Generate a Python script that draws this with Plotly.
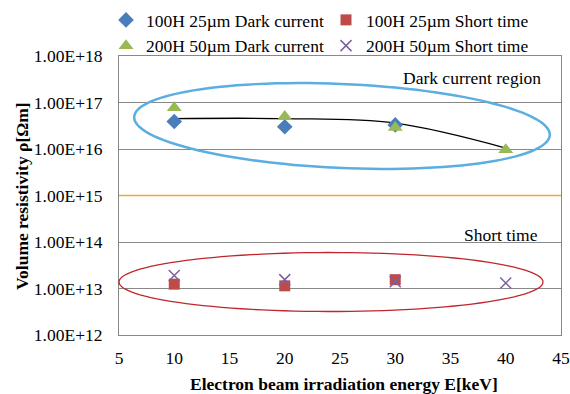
import numpy as np
import plotly.graph_objects as go

energy = [10, 20, 30, 40]
energy_short = [10, 20, 30]
dark_100h = [3.9e16, 3.0e16, 3.3e16]
dark_200h = [7.7e16, 5.0e16, 2.9e16, 9.6e15]
short_100h = [1.24e13, 1.14e13, 1.55e13]
short_200h = [1.9e13, 1.55e13, 1.4e13, 1.31e13]
trend_vals = [4.5e16, 4.5e16, 3.6e16, 1.05e16]
threshold = 1e15
y_tickvals = [1e12, 1e13, 1e14, 1e15, 1e16, 1e17, 1e18]
y_ticktext = ["1.00E+12", "1.00E+13", "1.00E+14", "1.00E+15", "1.00E+16", "1.00E+17", "1.00E+18"]
x_ticks = [5, 10, 15, 20, 25, 30, 35, 40, 45]

FONT = "Liberation Serif, Times New Roman, serif"
FS = 17.5
W, H = 570, 394
L, R, T, B = 119, 9, 56, 59
PW, PH = W - L - R, H - T - B

fig = go.Figure()

fig.add_trace(go.Scatter(x=[5, 45], y=[threshold, threshold], mode="lines",
                         line=dict(color="#f2a829", width=1.5), showlegend=False, hoverinfo="skip"))
fig.add_trace(go.Scatter(x=energy, y=trend_vals, mode="lines", line=dict(color="black", width=1.3, shape="spline"),
                         showlegend=False, hoverinfo="skip"))

fig.add_trace(go.Scatter(x=energy_short, y=dark_100h, mode="markers", name="100H 25µm Dark current",
                         marker=dict(symbol="diamond", size=12, color="#4a7ebb")))
fig.add_trace(go.Scatter(x=energy_short, y=short_100h, mode="markers", name="100H 25µm Short time",
                         marker=dict(symbol="square", size=11, color="#be4b48")))
fig.add_trace(go.Scatter(x=energy, y=dark_200h, mode="markers", name="200H 50µm Dark current",
                         marker=dict(symbol="triangle-up", size=13, color="#98b954")))
fig.add_trace(go.Scatter(x=energy, y=short_200h, mode="markers", name="200H 50µm Short time",
                         marker=dict(symbol="x-thin", size=11, color="#7d60a0", line=dict(width=1.5, color="#7d60a0"))))


def ellipse_path(cx, cy, a, b, deg):
    th = np.radians(deg)
    t = np.linspace(0, 2 * np.pi, 120)
    px = cx + a * np.cos(t) * np.cos(th) - b * np.sin(t) * np.sin(th)
    py = cy + a * np.cos(t) * np.sin(th) + b * np.sin(t) * np.cos(th)
    xs = (px - L) / PW
    ys = (H - B - py) / PH
    return "M " + " L ".join(f"{x:.4f},{y:.4f}" for x, y in zip(xs, ys)) + " Z"


fig.add_shape(type="path", xref="paper", yref="paper", path=ellipse_path(342, 126, 208, 42, 2.5),
              line=dict(color="#5aaee0", width=2.5), layer="above")
fig.add_shape(type="path", xref="paper", yref="paper", path=ellipse_path(331, 282, 212, 29.5, 0),
              line=dict(color="#c0262d", width=1.3), layer="above")

fig.add_annotation(text="Dark current region", xref="paper", yref="paper",
                   x=(543 - L) / PW, y=(H - B - 78) / PH, xanchor="right", yanchor="middle",
                   showarrow=False, font=dict(family=FONT, size=FS, color="black"))
fig.add_annotation(text="Short time", xref="paper", yref="paper",
                   x=(540 - L) / PW, y=(H - B - 235) / PH, xanchor="right", yanchor="middle",
                   showarrow=False, font=dict(family=FONT, size=FS, color="black"))

# axis titles
fig.add_annotation(text="<b>Electron beam irradiation energy E[keV]</b>", xref="paper", yref="paper",
                   x=(344 - L) / PW, y=(H - B - 384) / PH, xanchor="center", yanchor="middle",
                   showarrow=False, font=dict(family=FONT, size=FS, color="black"))
fig.add_annotation(text="<b>Volume resistivity ρ[Ωm]</b>", xref="paper", yref="paper", textangle=-90,
                   x=(22 - L) / PW, y=(H - B - 196) / PH, xanchor="center", yanchor="middle",
                   showarrow=False, font=dict(family=FONT, size=FS, color="black"))

fig.update_layout(
    width=W, height=H,
    margin=dict(l=L, r=R, t=T, b=B, autoexpand=False),
    paper_bgcolor="white", plot_bgcolor="white",
    font=dict(family=FONT, size=FS, color="black"),
    legend=dict(orientation="h", xref="container", yref="container",
                x=106 / W, y=1 - 2 / H, xanchor="left", yanchor="top",
                entrywidth=175, entrywidthmode="pixels", font=dict(family=FONT, size=FS),
                itemwidth=30, tracegroupgap=0, bgcolor="rgba(0,0,0,0)"),
    xaxis=dict(range=[5, 45], tickvals=x_ticks, showgrid=False, showline=True, mirror=True,
               linecolor="#898989", linewidth=1, ticks="outside", ticklen=7, tickcolor="rgba(0,0,0,0)",
               zeroline=False, tickfont=dict(family=FONT, size=FS)),
    yaxis=dict(type="log", range=[12, 18], tickvals=y_tickvals, ticktext=y_ticktext,
               showgrid=True, gridcolor="#898989", gridwidth=1, showline=True, mirror=True,
               linecolor="#898989", linewidth=1, ticks="outside", ticklen=12, tickcolor="rgba(0,0,0,0)",
               zeroline=False, tickfont=dict(family=FONT, size=FS)),
)

fig.write_html(
    "out.html",
    config={"displayModeBar": False},
    post_script="document.body.style.margin='0';document.body.style.padding='0';"
                "document.documentElement.style.overflow='hidden';",
)
